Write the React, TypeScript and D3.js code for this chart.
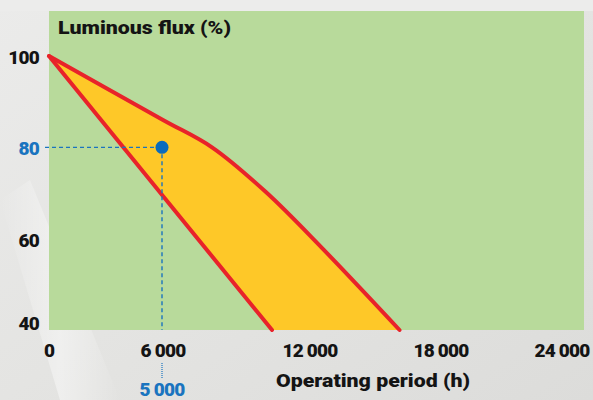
import React from "react";
import * as d3 from "d3";

// ---- data ----
const xTicks = [0, 6000, 12000, 18000, 24000];
const yTicks = [40, 60, 80, 100];
// lower bound of the luminous-flux band (straight line)
const lowerCurve: [number, number][] = [
  [0, 100],
  [10450, 40],
];
// upper bound of the band (concave curve)
const upperCurve: [number, number][] = [
  [0, 100],
  [6000, 86],
  [8000, 80],
  [10200, 70.2],
  [12500, 58.2],
  [16100, 40],
];
const markerHours = 5000;
const markerFlux = 80;
const yTitle = "Luminous flux (%)";
const xTitle = "Operating period (h)";

const W = 593;
const H = 400;

const locale = d3.formatLocale({
  decimal: ".",
  thousands: " ",
  grouping: [3],
  currency: ["", ""],
});
const fmt = locale.format(",");

export default function App() {
  // the reference graphic places its x ticks non-uniformly; mirror that with a piecewise scale
  const x = d3
    .scaleLinear()
    .domain([0, 5000, 6000, 12000, 18000, 24000])
    .range([49, 162, 163, 310, 441, 562]);
  const y = d3.scaleLinear().domain([40, 100]).range([330, 56]);

  const plotLeft = x(0);
  const plotRight = 584;
  const plotTop = 11;
  const plotBottom = y(40);

  const line = d3
    .line<[number, number]>()
    .x((d) => x(d[0]))
    .y((d) => y(d[1]))
    .curve(d3.curveCatmullRom.alpha(0.5));
  const straight = d3
    .line<[number, number]>()
    .x((d) => x(d[0]))
    .y((d) => y(d[1]));

  const upperPath = line(upperCurve) || "";
  const lowerRev = [...lowerCurve].reverse();
  const areaPath =
    upperPath +
    lowerRev.map((d) => `L${x(d[0])},${y(d[1])}`).join("") +
    "Z";

  const font = "Roboto, 'Liberation Sans', sans-serif";
  const weight = 900;
  const dark = "#141414";
  const blue = "#1a74bf";
  const red = "#e8232a";

  const mx = x(markerHours);
  const my = y(markerFlux);

  return (
    <div style={{ position: "fixed", left: 0, top: 0 }}>
      <svg width={W} height={H} style={{ display: "block" }}>
        <defs>
          <linearGradient id="bg" x1="0" y1="0" x2="1" y2="1">
            <stop offset="0" stopColor="#ebebea" />
            <stop offset="0.5" stopColor="#e4e4e2" />
            <stop offset="1" stopColor="#dcdcda" />
          </linearGradient>
          <linearGradient id="streak" x1="0" y1="0" x2="1" y2="0">
            <stop offset="0" stopColor="#ffffff" stopOpacity="0" />
            <stop offset="0.5" stopColor="#ffffff" stopOpacity="0.6" />
            <stop offset="1" stopColor="#ffffff" stopOpacity="0" />
          </linearGradient>
        </defs>
        <rect x={0} y={0} width={W} height={H} fill="url(#bg)" />
        <rect x={0} y={0} width={W} height={plotTop} fill="#ececeb" />
        <polygon points="0,200 30,180 120,400 60,400" fill="url(#streak)" opacity={0.7} />

        {/* plot area */}
        <rect
          x={plotLeft}
          y={plotTop}
          width={plotRight - plotLeft}
          height={plotBottom - plotTop}
          fill="#b8da9b"
        />

        {/* band */}
        <path d={areaPath} fill="#fec828" />
        <path
          d={upperPath}
          fill="none"
          stroke={red}
          strokeWidth={4}
          strokeLinecap="round"
          strokeLinejoin="round"
        />
        <path
          d={straight(lowerCurve) || ""}
          fill="none"
          stroke={red}
          strokeWidth={4}
          strokeLinecap="round"
        />

        {/* marker guides */}
        <line
          x1={45}
          x2={mx}
          y1={my}
          y2={my}
          stroke={blue}
          strokeWidth={1.4}
          strokeDasharray="4,3"
        />
        <line
          x1={mx}
          x2={mx}
          y1={my}
          y2={plotBottom}
          stroke={blue}
          strokeWidth={1.4}
          strokeDasharray="4,3"
        />
        <line
          x1={mx}
          x2={mx}
          y1={363}
          y2={378}
          stroke={blue}
          strokeWidth={1.2}
          strokeDasharray="1,1"
        />
        <circle cx={mx} cy={my} r={6.5} fill="#0a6bbd" />

        {/* y tick labels */}
        {yTicks.map((v) => (
          <text
            key={v}
            x={39}
            y={Math.min(y(v) + 8, 330)}
            textAnchor="end"
            fontFamily={font}
            fontWeight={weight}
            fontSize={19}
            letterSpacing={-0.8}
            fill={v === markerFlux ? blue : dark}
          >
            {v}
          </text>
        ))}

        {/* x tick labels */}
        {xTicks.map((v) => (
          <text
            key={v}
            x={x(v)}
            y={357}
            textAnchor="middle"
            fontFamily={font}
            fontWeight={weight}
            fontSize={19}
            letterSpacing={-0.8}
            fill={dark}
          >
            {fmt(v)}
          </text>
        ))}
        <text
          x={mx}
          y={396}
          textAnchor="middle"
          fontFamily={font}
          fontWeight={weight}
          fontSize={19}
          letterSpacing={-0.8}
          fill={blue}
        >
          {fmt(markerHours)}
        </text>

        {/* titles */}
        <text
          x={58}
          y={34}
          fontFamily={font}
          fontWeight={weight}
          fontSize={19}
          textLength={173}
          lengthAdjust="spacingAndGlyphs"
          fill={dark}
        >
          {yTitle}
        </text>
        <text
          x={276}
          y={387}
          fontFamily={font}
          fontWeight={weight}
          fontSize={19}
          textLength={194}
          lengthAdjust="spacingAndGlyphs"
          fill={dark}
        >
          {xTitle}
        </text>
      </svg>
    </div>
  );
}
